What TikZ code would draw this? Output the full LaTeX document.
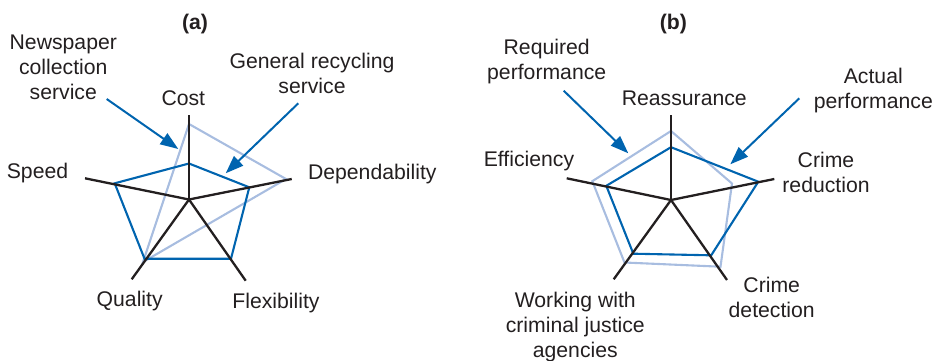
\documentclass[tikz,border=0pt]{standalone}
\usepackage{fontspec}
\setmainfont{Liberation Sans}
\usetikzlibrary{arrows.meta}

\definecolor{darkblue}{RGB}{0,100,175}
\definecolor{paleblue}{RGB}{168,189,224}
\definecolor{axisblack}{RGB}{35,31,32}

\tikzset{
  axis/.style={line width=1.15pt,axisblack},
  actual/.style={line width=1.05pt,darkblue},
  required/.style={line width=1.05pt,paleblue},
  pointer/.style={line width=1pt,darkblue,-{Triangle[length=9pt,width=6.5pt]}},
  lbl/.style={font=\fontsize{10.6}{12.5}\selectfont,text=axisblack,align=center,inner sep=0pt},
  panel/.style={lbl,font=\fontsize{10.6}{12.5}\selectfont\bfseries}
}

\begin{document}
\begin{tikzpicture}[x=0.5pt,y=-0.5pt]
\useasboundingbox (0,0) rectangle (942,360);

% (a) recycling services
\coordinate (ca) at (189,199.5);
\coordinate (cost) at (189,115);
\coordinate (dep) at (291.7,179);
\coordinate (flex) at (245.7,280.7);
\coordinate (qual) at (131.7,279.3);
\coordinate (speed) at (85,178.3);

\draw[required] (189,124) -- (286,179) -- (143,262) -- cycle;
\draw[actual] (189,163.5) -- (249.3,187.3) -- (231,258.7) -- (144.5,258.7) -- (114.7,183.3) -- cycle;
\foreach \e in {cost,dep,flex,qual,speed}
  \draw[axis] (ca) -- (\e);

\node[panel] (tita) at (195,24) {(a)};
\node[lbl] (news) at (63.3,67.5) {Newspaper\\collection\\service};
\node[lbl] (general) at (312,73) {General recycling\\service};
\node[lbl] (lcost) at (183.3,98.5) {Cost};
\node[lbl] (ldep) at (372.3,174) {Dependability};
\node[lbl] (lspeed) at (37.5,173.5) {Speed};
\node[lbl] (lqual) at (129.7,301.5) {Quality};
\node[lbl] (lflex) at (276,303.5) {Flexibility};

\coordinate (newsfrom) at (106.7,99);
\coordinate (newsto) at (178.3,149);
\coordinate (genfrom) at (298.3,103.3);
\coordinate (gento) at (225.7,173.3);
\draw[pointer] (newsfrom) -- (newsto);
\draw[pointer] (genfrom) -- (gento);

% (b) police performance
\coordinate (cb) at (671,200);
\coordinate (reass) at (671,115);
\coordinate (reduc) at (774.3,179);
\coordinate (detec) at (727,280);
\coordinate (work) at (613.7,279.3);
\coordinate (effic) at (566.7,178.3);

\draw[required] (671,131) -- (732,183.5) -- (720.5,266.7) -- (624.5,262.5) -- (592.3,181.2) -- cycle;
\draw[actual] (671,147.2) -- (758.3,181.7) -- (711.2,255.3) -- (633.3,253.7) -- (606.3,185.8) -- cycle;
\foreach \e in {reass,reduc,detec,work,effic}
  \draw[axis] (cb) -- (\e);

\node[panel] (titb) at (673.3,24) {(b)};
\node[lbl] (requ) at (546.7,62) {Required\\performance};
\node[lbl] (actu) at (873.3,90.5) {Actual\\performance};
\node[lbl] (lreass) at (684.3,98.5) {Reassurance};
\node[lbl] (leffic) at (529,161) {Efficiency};
\node[lbl] (lreduc) at (826,172) {Crime\\reduction};
\node[lbl] (ldetec) at (771.7,297) {Crime\\detection};
\node[lbl] (lwork) at (575.3,327.5) {Working with\\criminal justice\\agencies};

\coordinate (requfrom) at (563.7,90.7);
\coordinate (requto) at (628.3,153.3);
\coordinate (actufrom) at (799.3,98.3);
\coordinate (actuto) at (730.3,164.3);
\draw[pointer] (requfrom) -- (requto);
\draw[pointer] (actufrom) -- (actuto);

\end{tikzpicture}
\end{document}
